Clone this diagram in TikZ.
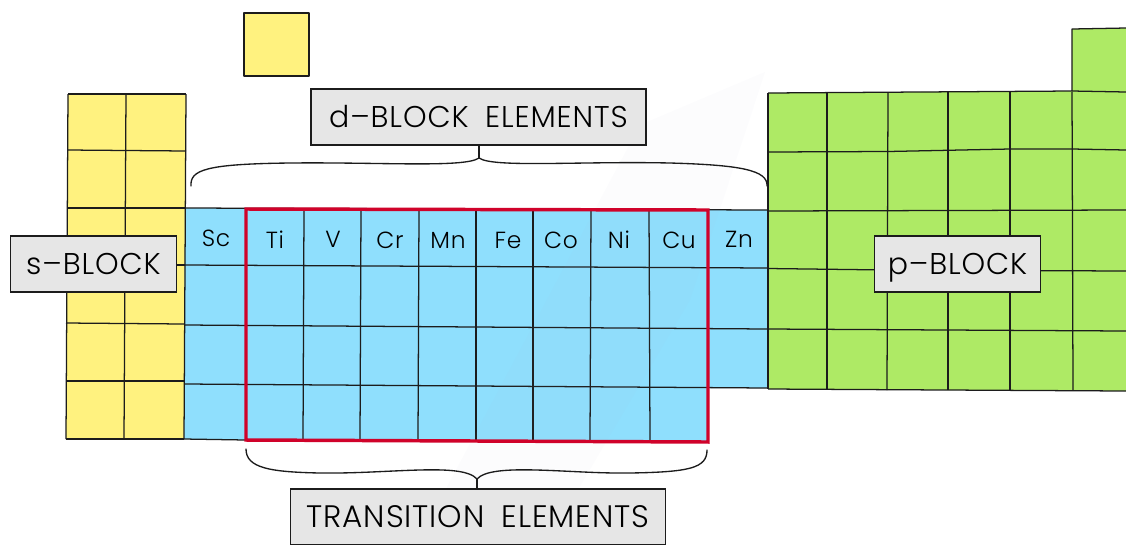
\documentclass[tikz,border=0pt]{standalone}
\usepackage{fontspec}
\setmainfont{Poppins Light}[LetterSpace=3,WordSpace=1.8]
\definecolor{yel}{HTML}{FFF27F}
\definecolor{blu}{HTML}{8FDFFD}
\definecolor{gre}{HTML}{AEEA65}
\definecolor{lab}{HTML}{E6E6E6}
\definecolor{redb}{HTML}{D0022A}
\definecolor{ink}{HTML}{1C1C1C}
\tikzset{
  gridline/.style={draw=ink,line width=0.95pt,line join=round},
  labelbox/.style={draw=ink,fill=lab,line width=1.1pt,inner sep=0pt,text=black,text height=16pt,text depth=0pt,font=\fontsize{22.5}{23}\selectfont},
  cell/.style={text=black,inner sep=0pt,text height=12.5pt,text depth=0pt,font=\fontsize{17.5}{18}\selectfont},
  bracel/.style={draw=ink,line width=1.0pt,line cap=round}
}
\begin{document}
\begin{tikzpicture}[x=0.75pt,y=-0.75pt]
\useasboundingbox (0,0) rectangle (1126,544);
\fill[white] (0,0) rectangle (1126,544);
% fills
\fill[yel] (68,94) -- (186,94) -- (184,439) -- (66,439) -- cycle;
\fill[yel] (244,13) -- (309,13) -- (309,76) -- (244,76) -- cycle;
\fill[blu] (185,208) -- (768,210) -- (768,388) -- (708,388) -- (708,442) -- (246,440) -- (184,439) -- cycle;
\fill[gre] (768,93) -- (1072,91) -- (1072,29) -- (1126,28) -- (1126,391) -- (768,389) -- cycle;
% yellow grid
\draw[gridline] (68,94) -- (186,94);
\draw[gridline] (68,150) -- (186,151);
\draw[gridline] (68,208) -- (186,208);
\draw[gridline] (67,265) -- (185,265);
\draw[gridline] (66,323) -- (184,324);
\draw[gridline] (66,381) -- (184,381);
\draw[gridline] (66,439) -- (184,439);
\draw[gridline] (68,94) -- (66,439);
\draw[gridline] (126,94) -- (124,439);
\draw[gridline] (186,94) -- (184,439);
% top box
\draw[gridline] (244,13) -- (309,13) -- (309,76) -- (244,76) -- cycle;
% blue grid
\draw[gridline] (185,208) -- (768,210);
\draw[gridline] (185,265) -- (768,268);
\draw[gridline] (185,325) -- (768,329);
\draw[gridline] (185,384) -- (768,388);
\draw[gridline] (184,439) -- (246,440);
\foreach \x/\y in {304/303,361/360,419/418,476/476,533/533,591/590,649/650}
  \draw[gridline] (\x,209) -- (\y,441);
% green grid
\draw[gridline] (768,93) -- (1072,91) -- (1072,29) -- (1126,28);
\draw[gridline] (1072,91) -- (1126,92);
\draw[gridline] (768,152) -- (888,151.5) -- (1010,149) -- (1072,149) -- (1126,150);
\draw[gridline] (768,211) -- (1126,210);
\draw[gridline] (768,268.5) -- (888,270) -- (1126,271);
\draw[gridline] (768,329) -- (1126,331);
\draw[gridline] (768,389) -- (1126,391);
\draw[gridline] (768,93) -- (768,389);
\foreach \x/\y in {827/827,888/887,948/948,1010/1010,1072/1073}
  \draw[gridline] (\x,92) -- (\y,390);
% faint watermark
\fill[black!45!blue!30!white,opacity=.035] (765,72) -- (640,125) -- (440,500) -- (560,520) -- (690,300) -- cycle;
% red frame
\draw[redb,line width=2.6pt,line join=miter] (246,209) -- (708,210) -- (708,442) -- (246,440) -- cycle;
% labels
\node[labelbox,minimum width=124.5pt,minimum height=42pt] (sblock) at (93.5,264) {s–BLOCK};
\node[labelbox,minimum width=124.5pt,minimum height=42pt] (pblock) at (957.5,264) {p–BLOCK};
\node[labelbox,minimum width=251pt,minimum height=42pt] (dblock) at (478.5,117) {d–BLOCK ELEMENTS};
\node[labelbox,minimum width=281pt,minimum height=42pt,font=\fontsize{23.3}{24}\selectfont] (trans) at (478,517) {TRANSITION ELEMENTS};
% element symbols
\node[cell] (sc) at (216,238) {Sc};
\node[cell] (ti) at (275,240) {Ti};
\node[cell] (v) at (333,239) {V};
\node[cell] (cr) at (390,240) {Cr};
\node[cell] (mn) at (448,240) {Mn};
\node[cell] (fe) at (508,240) {Fe};
\node[cell] (co) at (561,240) {Co};
\node[cell] (ni) at (619,240) {Ni};
\node[cell] (cu) at (679,240) {Cu};
\node[cell] (zn) at (739,239) {Zn};
% braces
\coordinate (dl) at (191,186);
\coordinate (dr) at (767,186);
\coordinate (dc) at (479,158);
\coordinate (tl) at (246,449);
\coordinate (tr) at (707,450);
\coordinate (tc) at (477,479);
\draw[bracel] (dl) .. controls (190,170) and (205,164) .. (290,163)
  .. controls (380,162) and (465,168) .. (dc)
  .. controls (493,168) and (580,161) .. (670,163)
  .. controls (740,165) and (768,170) .. (dr);
\draw[bracel] (dc) -- (dc |- dblock.south);
\draw[bracel] (tl) .. controls (246,468) and (270,472) .. (320,473)
  .. controls (390,474) and (462,462) .. (tc)
  .. controls (492,462) and (570,474) .. (630,473)
  .. controls (690,472) and (707,468) .. (tr);
\draw[bracel] (tc) -- (tc |- trans.north);
\end{tikzpicture}
\end{document}
